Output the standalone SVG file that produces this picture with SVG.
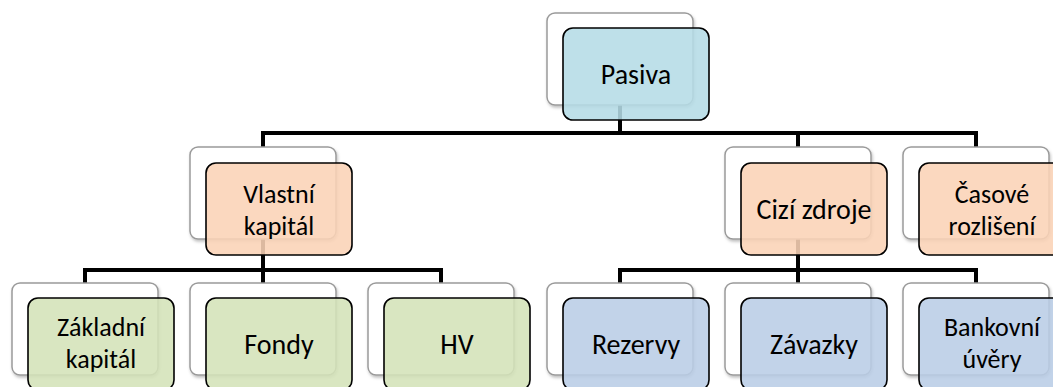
<svg xmlns="http://www.w3.org/2000/svg" width="1053" height="387" viewBox="0 0 1053 387">
<defs>
<filter id="sh" x="-10%" y="-10%" width="130%" height="130%">
<feDropShadow dx="1" dy="2" stdDeviation="1.5" flood-color="#000" flood-opacity="0.25"/>
</filter>
</defs>
<style>
.back{fill:#ffffff;stroke:#9a9a9a;stroke-width:1.5;filter:url(#sh)}
.front{stroke:#000;stroke-width:1.6;fill-opacity:0.88}
.cyan{fill:#b5dce6}
.orange{fill:#fbd3b6}
.green{fill:#d4e2b8}
.blue{fill:#b9cde6}
.conn{fill:none;stroke:#000;stroke-width:4;stroke-linejoin:miter;stroke-linecap:butt}
text{font-family:Calibri,Carlito,Lato,sans-serif;font-size:28px;fill:#000;text-anchor:middle}
text.two{font-size:26px}
</style>
<rect width="1053" height="387" fill="#ffffff"/>
<g id="connectors">
<path class="conn" d="M620 105V133"/>
<path class="conn" d="M263 147V133H976V147M798 133V147"/>
<path class="conn" d="M263 239V270"/>
<path class="conn" d="M85 283V270H441V283M263 270V283"/>
<path class="conn" d="M798 239V270"/>
<path class="conn" d="M620 283V270H976V283M798 270V283"/>
</g>
<g id="pasiva">
<rect class="back" x="547" y="13" width="146" height="92" rx="8"/>
<rect class="front cyan" x="563" y="28" width="146" height="92" rx="10"/>
<text x="636" y="84">Pasiva</text>
</g>
<g id="vlastni-kapital">
<rect class="back" x="190" y="147" width="146" height="92" rx="8"/>
<rect class="front orange" x="206" y="163" width="146" height="92" rx="10"/>
<text class="two" x="279" y="203"><tspan x="279">Vlastní</tspan><tspan x="279" dy="31.5">kapitál</tspan></text>
</g>
<g id="cizi-zdroje">
<rect class="back" x="725" y="147" width="146" height="92" rx="8"/>
<rect class="front orange" x="741" y="163" width="146" height="92" rx="10"/>
<text x="814" y="219">Cizí zdroje</text>
</g>
<g id="casove-rozliseni">
<rect class="back" x="903" y="147" width="146" height="92" rx="8"/>
<rect class="front orange" x="919" y="163" width="146" height="92" rx="10"/>
<text class="two" x="992" y="203"><tspan x="992">Časové</tspan><tspan x="992" dy="31.5">rozlišení</tspan></text>
</g>
<g id="zakladni-kapital">
<rect class="back" x="12" y="283" width="146" height="92" rx="8"/>
<rect class="front green" x="28" y="298" width="146" height="92" rx="10"/>
<text class="two" x="101" y="336"><tspan x="101">Základní</tspan><tspan x="101" dy="31.5">kapitál</tspan></text>
</g>
<g id="fondy">
<rect class="back" x="190" y="283" width="146" height="92" rx="8"/>
<rect class="front green" x="206" y="298" width="146" height="92" rx="10"/>
<text x="279" y="354">Fondy</text>
</g>
<g id="hv">
<rect class="back" x="368" y="283" width="146" height="92" rx="8"/>
<rect class="front green" x="384" y="298" width="146" height="92" rx="10"/>
<text x="457" y="354">HV</text>
</g>
<g id="rezervy">
<rect class="back" x="547" y="283" width="146" height="92" rx="8"/>
<rect class="front blue" x="563" y="298" width="146" height="92" rx="10"/>
<text x="636" y="354">Rezervy</text>
</g>
<g id="zavazky">
<rect class="back" x="725" y="283" width="146" height="92" rx="8"/>
<rect class="front blue" x="741" y="298" width="146" height="92" rx="10"/>
<text x="814" y="354">Závazky</text>
</g>
<g id="bankovni-uvery">
<rect class="back" x="903" y="283" width="146" height="92" rx="8"/>
<rect class="front blue" x="919" y="298" width="146" height="92" rx="10"/>
<text class="two" x="992" y="336"><tspan x="992">Bankovní</tspan><tspan x="992" dy="31.5">úvěry</tspan></text>
</g>
</svg>
